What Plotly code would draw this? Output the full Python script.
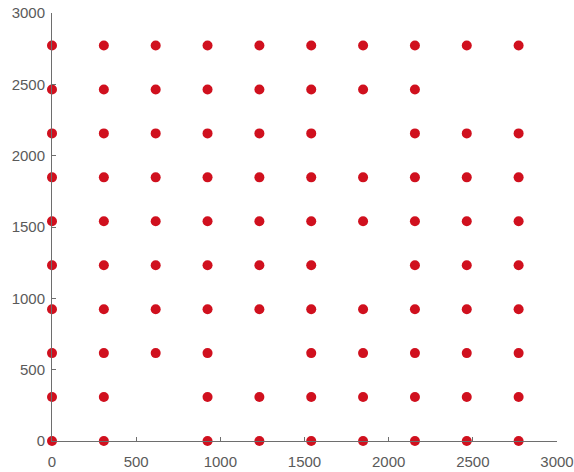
import plotly.graph_objects as go

grid_vals = [0, 308, 616, 924, 1232, 1540, 1848, 2156, 2464, 2772]

# presence per row (y value) of columns (x index)
rows = {
    2772: [0, 1, 2, 3, 4, 5, 6, 7, 8, 9],
    2464: [0, 1, 2, 3, 4, 5, 6, 7],
    2156: [0, 1, 2, 3, 4, 5, 7, 8, 9],
    1848: [0, 1, 2, 3, 4, 5, 6, 7, 8, 9],
    1540: [0, 1, 2, 3, 4, 5, 6, 7, 8, 9],
    1232: [0, 1, 2, 3, 4, 5, 7, 8, 9],
    924:  [0, 1, 2, 3, 4, 5, 6, 7, 8, 9],
    616:  [0, 1, 2, 3, 5, 6, 7, 8, 9],
    308:  [0, 1, 3, 4, 5, 6, 7, 8, 9],
    0:    [0, 1, 3, 4, 5, 6, 7, 8, 9],
}

x_vals = []
y_vals = []
for yv, cols in rows.items():
    for c in cols:
        x_vals.append(grid_vals[c])
        y_vals.append(yv)

tick_vals = [0, 500, 1000, 1500, 2000, 2500, 3000]
tick_text = ["0", "500", "1000", "1500", "2000", "2500", "3000"]

fig = go.Figure()
fig.add_trace(go.Scatter(
    x=x_vals, y=y_vals, mode="markers",
    marker=dict(size=10, color="#d0101e", line=dict(width=0)),
    cliponaxis=False, showlegend=False,
))

axis_common = dict(
    range=[0, 3000], showgrid=False, zeroline=False,
    showline=True, linecolor="#6e6e6e", linewidth=1,
    ticks="inside", ticklen=4, tickcolor="#6e6e6e",
    tickvals=tick_vals, ticktext=tick_text,
    tickfont=dict(family="Liberation Sans, Arial, sans-serif", size=15, color="#5a5a5a"),
    automargin=False,
)

fig.update_layout(
    width=574, height=472,
    margin=dict(l=52, r=17, t=13, b=31),
    plot_bgcolor="white", paper_bgcolor="white",
    xaxis=dict(**axis_common, ticklabelstandoff=7),
    yaxis=dict(**axis_common, ticklabelstandoff=3),
)

fig.write_html(
    "out.html",
    config={"displayModeBar": False},
    post_script="document.body.style.margin='0';document.body.style.overflow='hidden';",
)
